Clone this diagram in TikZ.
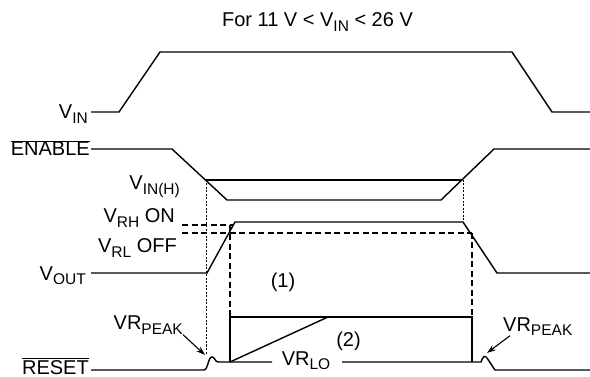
\documentclass[tikz,border=0pt]{standalone}
\usepackage{fontspec}
\setmainfont{Liberation Sans}
\usetikzlibrary{arrows.meta}
\newcommand{\sbs}[1]{\raisebox{-4.5pt}{\fontsize{15.5}{16}\selectfont #1}}
\begin{document}
\begin{tikzpicture}[x=1pt,y=-1pt,
    wave/.style={line width=1.4pt},
    thr/.style={line width=1.4pt,dash pattern=on 6pt off 3.5pt},
    guide/.style={line width=0.9pt,dash pattern=on 2pt off 1.5pt},
    lbl/.style={inner sep=0pt,font=\fontsize{20}{23}\selectfont},
    pk/.style={-{Stealth[length=9pt,width=6pt]},line width=1.1pt}]
    \useasboundingbox (0,0) rectangle (590,377);

    % Titre
    \node[lbl,anchor=base] (titre) at (317.5,27) {For 11 V < V\sbs{IN} < 26 V};

    % V_IN
    \node[lbl,anchor=base east] (vin) at (88,119) {V\sbs{IN}};
    \draw[wave] (91,112) -- (119,112) -- (160,52) -- (512,52) -- (552,112) -- (590,112);

    % ENABLE et seuil V_IN(H)
    \node[lbl,anchor=base east] (en) at (90,156) {$\overline{\hbox{ENABLE}}$};
    \draw[wave] (91,149) -- (172,149) -- (227,200) -- (441,200) -- (494,149) -- (590,149);
    \draw[wave] (205.5,180) -- (462,180);
    \node[lbl,anchor=base east] (vinh) at (180,190) {V\sbs{IN(H)}};

    % V_OUT
    \node[lbl,anchor=base east] (vout) at (86,280) {V\sbs{OUT}};
    \draw[wave] (91,273) -- (207,273) -- (235,222) -- (463,222) -- (497,273) -- (590,273);

    % Seuils V_RH / V_RL
    \node[lbl,anchor=base east] (vrh) at (175,223) {V\sbs{RH} ON};
    \node[lbl,anchor=base east] (vrl) at (177,253) {V\sbs{RL} OFF};
    \draw[thr] (182,225) -- (233,225);
    \draw[thr] (182,233) -- (472,233);
    \draw[thr] (230,225) -- (230,317);
    \draw[thr] (472,233) -- (472,317);

    % Lignes pointillées
    \draw[guide] (206,180) -- (206,355);
    \draw[guide] (463,180) -- (463,222);

    % RESET
    \node[lbl,anchor=base east] (rst) at (89,374) {$\overline{\hbox{RESET}}$};
    \draw[wave] (91,370) -- (204,370) .. controls (208,370) and (208,357) .. (212,357)
        .. controls (215,357) and (215,362) .. (218,362) -- (272,362);
    \draw[wave] (342,362) -- (481,362) .. controls (483,356) and (485,355) .. (487,358)
        -- (495,370) -- (590,370);
    \draw[wave] (230,362) -- (230,317) -- (472,317) -- (472,362);
    \draw[wave] (230,362) -- (328,317);
    \node[lbl,anchor=base] (vrlo) at (306,365) {VR\sbs{LO}};
    \node[lbl,anchor=base] (n1) at (283,288) {(1)};
    \node[lbl,anchor=base] (n2) at (348.5,347) {(2)};

    % VR_PEAK
    \node[lbl,anchor=base east] (pkG) at (183,330) {VR\sbs{PEAK}};
    \node[lbl,anchor=base west] (pkD) at (503,331) {VR\sbs{PEAK}};
    \coordinate (bosseG) at (205,355);
    \coordinate (bosseD) at (487,353);
    \draw[pk] (pkG.south east) -- (bosseG);
    \draw[pk] ([xshift=7pt]pkD.south west) -- (bosseD);
\end{tikzpicture}
\end{document}
